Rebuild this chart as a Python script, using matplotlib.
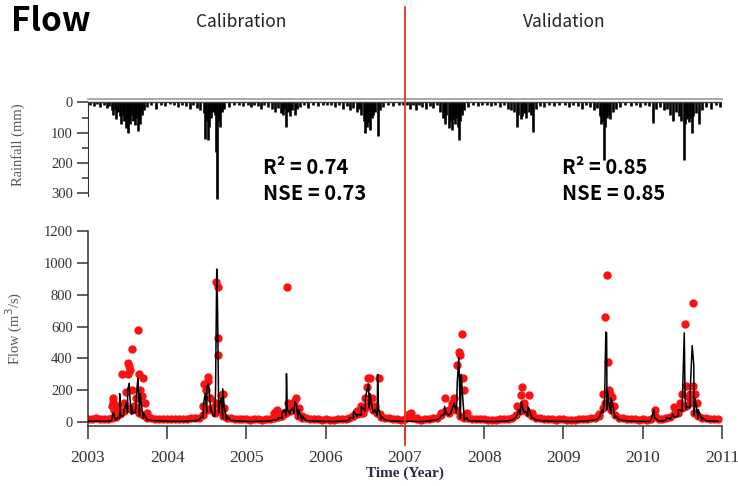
import numpy as np
import matplotlib
matplotlib.use('Agg')
import matplotlib.pyplot as plt
from matplotlib.lines import Line2D

plt.rcParams['font.family'] = ['Liberation Serif', 'DejaVu Serif']

# 年份刻度
years = [2003, 2004, 2005, 2006, 2007, 2008, 2009, 2010, 2011]
split_year = 2007

# 降雨事件 (年份, mm)
rain_t = [2003.03, 2003.08, 2003.12, 2003.15, 2003.20, 2003.24, 2003.27, 2003.30, 2003.32, 2003.34,
          2003.36, 2003.38, 2003.40, 2003.42, 2003.44, 2003.46, 2003.48, 2003.50, 2003.51, 2003.53,
          2003.55, 2003.57, 2003.59, 2003.61, 2003.63, 2003.64, 2003.66, 2003.68, 2003.71, 2003.75,
          2003.80, 2003.86, 2003.92, 2003.97,
          2004.03, 2004.08, 2004.14, 2004.19, 2004.24, 2004.29, 2004.33, 2004.38, 2004.42, 2004.46,
          2004.48, 2004.49, 2004.51, 2004.53, 2004.55, 2004.58, 2004.60, 2004.615, 2004.63, 2004.65,
          2004.67, 2004.69, 2004.72, 2004.78, 2004.84, 2004.90, 2004.96,
          2005.02, 2005.06, 2005.10, 2005.14, 2005.18, 2005.22, 2005.27, 2005.32, 2005.36, 2005.40,
          2005.43, 2005.46, 2005.48, 2005.50, 2005.52, 2005.55, 2005.58, 2005.61, 2005.64, 2005.68,
          2005.73, 2005.78, 2005.84, 2005.90, 2005.96,
          2006.02, 2006.07, 2006.12, 2006.17, 2006.22, 2006.27, 2006.31, 2006.35, 2006.39, 2006.42,
          2006.45, 2006.48, 2006.50, 2006.52, 2006.54, 2006.56, 2006.58, 2006.60, 2006.62, 2006.655,
          2006.68, 2006.72, 2006.78, 2006.85, 2006.92, 2006.97,
          2007.03, 2007.07, 2007.10, 2007.14, 2007.18, 2007.22, 2007.27, 2007.31, 2007.36, 2007.40,
          2007.44, 2007.48, 2007.50, 2007.52, 2007.55, 2007.57, 2007.59, 2007.61, 2007.63, 2007.65,
          2007.67, 2007.68, 2007.70, 2007.72, 2007.75, 2007.80, 2007.86, 2007.92, 2007.97,
          2008.03, 2008.08, 2008.14, 2008.20, 2008.25, 2008.30, 2008.34, 2008.38, 2008.41, 2008.43,
          2008.46, 2008.48, 2008.50, 2008.53, 2008.56, 2008.59, 2008.61, 2008.65, 2008.70, 2008.76,
          2008.82, 2008.88, 2008.94,
          2009.02, 2009.07, 2009.12, 2009.18, 2009.23, 2009.28, 2009.33, 2009.38, 2009.42, 2009.46,
          2009.48, 2009.50, 2009.51, 2009.53, 2009.55, 2009.57, 2009.59, 2009.62, 2009.66, 2009.72,
          2009.78, 2009.85, 2009.92, 2009.97,
          2010.03, 2010.08, 2010.13, 2010.17, 2010.22, 2010.27, 2010.31, 2010.35, 2010.38, 2010.42,
          2010.46, 2010.49, 2010.52, 2010.54, 2010.56, 2010.58, 2010.60, 2010.62, 2010.64, 2010.67,
          2010.71, 2010.75, 2010.80, 2010.86, 2010.92, 2010.97]
rain_mm = [8, 12, 6, 15, 10, 18, 12, 25, 40, 20,
           55, 30, 45, 70, 40, 60, 85, 100, 50, 70,
           40, 60, 75, 50, 95, 60, 70, 40, 25, 15,
           10, 20, 8, 12,
           6, 10, 15, 8, 12, 20, 10, 18, 25, 35,
           120, 60, 125, 80, 50, 30, 40, 165, 320, 60,
           80, 30, 20, 15, 10, 8, 12,
           8, 15, 10, 12, 22, 10, 15, 20, 30, 18,
           35, 40, 20, 80, 30, 45, 25, 40, 20, 15,
           10, 18, 8, 12, 8,
           10, 8, 15, 10, 20, 12, 25, 18, 30, 20,
           40, 60, 100, 80, 65, 90, 50, 40, 30, 110,
           25, 15, 10, 12, 8, 10,
           10, 20, 8, 25, 10, 15, 20, 12, 18, 10,
           30, 50, 70, 40, 85, 60, 90, 55, 70, 50,
           80, 125, 60, 40, 25, 15, 10, 12, 8,
           8, 12, 10, 15, 8, 20, 25, 30, 80, 40,
           55, 45, 35, 50, 30, 40, 97, 20, 12, 15,
           8, 12, 10,
           10, 15, 8, 12, 20, 10, 15, 25, 18, 45,
           70, 60, 190, 80, 50, 40, 55, 30, 20, 15,
           10, 12, 8, 15,
           8, 12, 67, 20, 15, 25, 20, 40, 62, 30,
           45, 60, 190, 70, 55, 65, 50, 100, 45, 35,
           70, 25, 15, 20, 10, 15]

# 基流 (每年 20 个读数, 间隔 0.05 年)
obs_base = [22, 20, 24, 20, 18, 22, 26, 35, 50, 70, 90, 80, 90, 60, 45, 30, 25, 22, 20, 22,
            20, 18, 20, 18, 20, 22, 25, 24, 28, 45, 80, 90, 60, 70, 40, 30, 25, 22, 20, 18,
            18, 16, 18, 20, 16, 18, 22, 30, 35, 40, 60, 70, 80, 40, 30, 25, 22, 20, 18, 16,
            18, 16, 15, 18, 20, 22, 30, 40, 55, 60, 90, 110, 80, 60, 35, 28, 24, 20, 18, 16,
            20, 35, 25, 18, 16, 18, 22, 26, 30, 45, 70, 60, 120, 80, 40, 30, 24, 22, 20, 18,
            18, 16, 15, 16, 18, 20, 22, 28, 45, 70, 80, 60, 40, 28, 24, 22, 20, 18, 16, 18,
            18, 16, 15, 16, 18, 20, 22, 26, 30, 50, 90, 110, 80, 45, 30, 25, 22, 20, 18, 16,
            18, 16, 20, 40, 22, 20, 30, 35, 50, 60, 90, 100, 120, 60, 40, 30, 24, 22, 20, 18]
sim_base = [8, 7, 8, 7, 6, 8, 10, 15, 25, 40, 60, 50, 60, 40, 25, 15, 12, 10, 9, 8,
            7, 6, 7, 6, 7, 8, 10, 10, 14, 30, 60, 70, 40, 60, 25, 15, 12, 10, 8, 7,
            6, 5, 6, 7, 6, 7, 9, 14, 18, 25, 40, 50, 55, 25, 15, 12, 10, 8, 7, 6,
            6, 5, 5, 6, 7, 8, 15, 25, 35, 45, 70, 90, 60, 40, 20, 14, 11, 9, 7, 6,
            7, 6, 6, 5, 5, 6, 8, 12, 15, 30, 50, 45, 90, 60, 25, 15, 11, 9, 8, 7,
            6, 5, 5, 5, 6, 7, 9, 14, 30, 50, 60, 40, 25, 15, 11, 9, 8, 7, 6, 6,
            6, 5, 5, 5, 6, 7, 9, 12, 15, 30, 60, 80, 55, 30, 18, 12, 10, 8, 7, 6,
            6, 5, 8, 25, 9, 8, 15, 20, 30, 40, 70, 80, 90, 45, 25, 15, 11, 9, 8, 7]
base_t = np.round(np.arange(2003.0, 2011.0, 0.05), 3)

# 洪水事件 - 模拟 (黑线)
sim_t = [2003.30, 2003.32, 2003.34, 2003.38, 2003.40, 2003.41, 2003.45, 2003.48, 2003.50, 2003.52,
         2003.53, 2003.55, 2003.57, 2003.60, 2003.62, 2003.63, 2003.645, 2003.66, 2003.68, 2003.70,
         2003.73,
         2004.44, 2004.46, 2004.48, 2004.50, 2004.52, 2004.53, 2004.55, 2004.58, 2004.61, 2004.625,
         2004.635, 2004.645, 2004.66, 2004.68, 2004.70, 2004.72, 2004.75,
         2005.40, 2005.45, 2005.48, 2005.505, 2005.515, 2005.55, 2005.58, 2005.61, 2005.63, 2005.66,
         2005.70,
         2006.30, 2006.35, 2006.40, 2006.45, 2006.50, 2006.52, 2006.54, 2006.56, 2006.58, 2006.62,
         2006.655, 2006.665, 2006.70,
         2007.45, 2007.50, 2007.52, 2007.58, 2007.62, 2007.66, 2007.68, 2007.69, 2007.71, 2007.72,
         2007.74, 2007.78,
         2008.40, 2008.44, 2008.47, 2008.48, 2008.52, 2008.55, 2008.57, 2008.62,
         2009.45, 2009.49, 2009.52, 2009.535, 2009.545, 2009.555, 2009.58, 2009.60, 2009.62, 2009.66,
         2010.14, 2010.15, 2010.30, 2010.38, 2010.45, 2010.50, 2010.525, 2010.535, 2010.56, 2010.60,
         2010.625, 2010.635, 2010.645, 2010.66, 2010.70, 2010.75]
sim_q = [20, 60, 25, 30, 180, 40, 60, 120, 200, 245,
         150, 100, 60, 80, 220, 275, 130, 180, 90, 60,
         30,
         40, 120, 180, 220, 240, 200, 90, 40, 200, 960,
         720, 240, 120, 150, 210, 100, 40,
         30, 60, 80, 305, 80, 70, 90, 130, 110, 80,
         40,
         30, 70, 50, 100, 150, 200, 240, 180, 110, 80,
         300, 90, 40,
         40, 100, 60, 60, 120, 250, 405, 200, 300, 220,
         80, 30,
         30, 80, 130, 100, 70, 100, 80, 30,
         30, 80, 150, 565, 560, 200, 100, 150, 120, 40,
         80, 30, 30, 50, 80, 120, 560, 150, 100, 200,
         480, 420, 360, 150, 80, 30]

# 洪水事件 - 实测 (红点)
obs_t = [2003.30, 2003.31, 2003.32, 2003.33, 2003.35, 2003.38, 2003.43, 2003.46, 2003.48, 2003.50,
         2003.51, 2003.52, 2003.53, 2003.55, 2003.56, 2003.58, 2003.60, 2003.63, 2003.65, 2003.66,
         2003.68, 2003.70, 2003.72, 2003.74,
         2004.45, 2004.47, 2004.49, 2004.51, 2004.52, 2004.54, 2004.56, 2004.61, 2004.62, 2004.635,
         2004.64, 2004.645, 2004.66, 2004.68, 2004.70, 2004.72,
         2005.35, 2005.38, 2005.42, 2005.46, 2005.51, 2005.52, 2005.55, 2005.60, 2005.63, 2005.66,
         2005.70,
         2006.35, 2006.40, 2006.44, 2006.47, 2006.50, 2006.52, 2006.54, 2006.555, 2006.58, 2006.62,
         2006.67, 2006.69,
         2007.05, 2007.08, 2007.15, 2007.45, 2007.50, 2007.55, 2007.60, 2007.62, 2007.66, 2007.68,
         2007.69, 2007.72, 2007.73, 2007.75, 2007.78,
         2008.42, 2008.46, 2008.48, 2008.50, 2008.53, 2008.57, 2008.60,
         2009.45, 2009.50, 2009.52, 2009.53, 2009.55, 2009.56, 2009.57, 2009.59, 2009.61, 2009.64,
         2010.15, 2010.40, 2010.47, 2010.50, 2010.53, 2010.545, 2010.58, 2010.60, 2010.63, 2010.64,
         2010.66, 2010.68]
obs_q = [100, 150, 130, 80, 60, 100, 305, 120, 190, 300,
         370, 350, 330, 200, 460, 100, 150, 575, 300, 200,
         165, 275, 120, 60,
         100, 240, 200, 285, 260, 150, 80, 120, 877, 850,
         525, 420, 100, 170, 180, 90,
         60, 80, 40, 60, 850, 120, 100, 130, 150, 90,
         40,
         40, 70, 100, 60, 150, 220, 280, 280, 150, 100,
         280, 50,
         50, 60, 30, 60, 150, 80, 100, 150, 360, 440,
         420, 550, 275, 200, 60,
         100, 170, 220, 120, 80, 170, 60,
         40, 180, 120, 660, 920, 380, 200, 180, 160, 100,
         80, 95, 120, 180, 615, 230, 160, 180, 745, 230,
         180, 120]

stats_cal = ['R² = 0.74', 'NSE = 0.73']
stats_val = ['R² = 0.85', 'NSE = 0.85']

# 合并基流与事件
st = np.concatenate([base_t, sim_t])
sq = np.concatenate([sim_base, sim_q])
order = np.argsort(st, kind='stable')
st, sq = st[order], sq[order]
ot = np.concatenate([base_t, obs_t])
oq = np.concatenate([obs_base, obs_q])

fig = plt.figure(figsize=(7.38, 4.86), dpi=100)
ax1 = fig.add_axes([0.1192, 0.588, 0.859, 0.2073])
ax2 = fig.add_axes([0.1192, 0.1235, 0.859, 0.4018])

tick_col = '#333333'

# 降雨图
ax1.vlines(rain_t, 0, rain_mm, color='black', lw=1.9)
ax1.axhline(0, color='#444444', lw=1.0)
ax1.set_xlim(years[0], years[-1])
ax1.set_ylim(325, -10)
ax1.set_yticks([0, 100, 200, 300])
ax1.set_yticks([50, 150, 250], minor=True)
for s in ['right', 'bottom']:
    ax1.spines[s].set_visible(False)
ax1.spines['top'].set_color('#999999')
ax1.spines['top'].set_linewidth(1.2)
ax1.spines['left'].set_bounds(0, 310)
ax1.spines['left'].set_color(tick_col)
ax1.set_xticks([])
ax1.tick_params(axis='y', which='major', length=8, width=1.1, color=tick_col,
                labelsize=10.5, labelcolor=tick_col, pad=3)
ax1.tick_params(axis='y', which='minor', length=4, width=1.1, color=tick_col)
ax1.set_ylabel('Rainfall (mm)', fontsize=10.5, color='#555555')
ax1.yaxis.set_label_coords(-0.099, 0.55)

# 流量图
ax2.plot(ot, oq, 'o', color='#ff1010', ms=5, mec='#ff1010', zorder=2)
ax2.plot(st, sq, color='black', lw=1.1, zorder=3)
ax2.set_xlim(years[0], years[-1])
ax2.set_ylim(-23, 1200)
ax2.set_yticks(range(0, 1201, 200))
ax2.set_xticks(years)
for s in ['right', 'top']:
    ax2.spines[s].set_visible(False)
for s in ['left', 'bottom']:
    ax2.spines[s].set_color(tick_col)
    ax2.spines[s].set_linewidth(1.1)
ax2.tick_params(axis='y', length=8, width=1.1, color=tick_col, labelsize=10.5,
                labelcolor=tick_col, pad=3)
ax2.tick_params(axis='x', length=9, width=1.1, color=tick_col, labelsize=12.5,
                labelcolor=tick_col, pad=8)
ax2.set_ylabel('Flow (m$^{3}$/s)', fontsize=10.5, color='#555555')
ax2.yaxis.set_label_coords(-0.099, 0.5)
ax2.set_xlabel('Time (Year)', fontsize=11, fontweight='bold', color='#2a2a44', labelpad=1)

# 率定/验证分界线
xf = fig.transFigure.inverted().transform(ax2.transData.transform((split_year, 0)))[0]
fig.add_artist(Line2D([xf, xf], [0.084, 0.986], color='#e8302a', lw=1.3))

sans = ['Noto Sans CJK KR', 'DejaVu Sans']
fig.text(0.015, 0.955, 'Flow', fontsize=24, fontweight='bold', family=sans,
         va='center', ha='left')
fig.text(0.3266, 0.955, 'Calibration', fontsize=12.5, family=sans, color='#222222',
         va='center', ha='center')
fig.text(0.764, 0.955, 'Validation', fontsize=12.5, family=sans, color='#222222',
         va='center', ha='center')
for lines, xl in [(stats_cal, 0.3564), (stats_val, 0.7615)]:
    fig.text(xl, (486 - 167) / 486, lines[0], fontsize=14.5,
             fontweight='bold', family=sans, va='center', ha='left')
    fig.text(xl, (486 - 193) / 486, lines[1], fontsize=14.5,
             fontweight='bold', family=sans, va='center', ha='left')

fig.savefig('out.png', dpi=100)
